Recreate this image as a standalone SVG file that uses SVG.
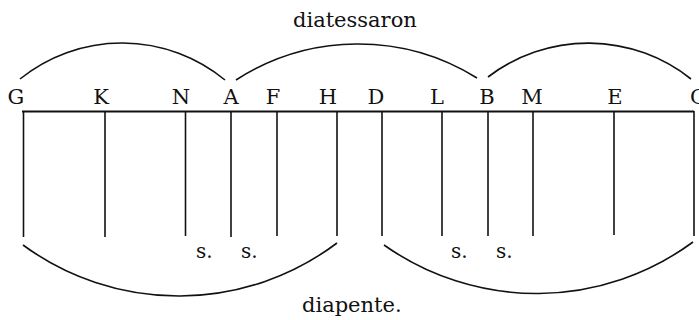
<svg xmlns="http://www.w3.org/2000/svg" width="699" height="320" viewBox="0 0 699 320">
<style>
text{font-family:"DejaVu Serif","Liberation Serif",serif;fill:#111;}
.lab{font-size:21px;text-anchor:middle;}
.s{font-size:20px;}
.t{font-size:21px;}
.v{stroke:#111;stroke-width:1.6;fill:none;}
.arc{stroke:#111;stroke-width:1.6;fill:none;}
</style>
<rect width="699" height="320" fill="#fff"/>
<line x1="22" y1="111.5" x2="694" y2="111.5" stroke="#111" stroke-width="2"/>
<g id="G"><text class="lab" x="16" y="104">G</text><line class="v" x1="23.5" y1="111" x2="23.5" y2="237"/></g>
<g id="K"><text class="lab" x="101" y="104">K</text><line class="v" x1="105" y1="111" x2="105" y2="237"/></g>
<g id="N"><text class="lab" x="181" y="104">N</text><line class="v" x1="185.5" y1="111" x2="185.5" y2="236"/></g>
<g id="A"><text class="lab" x="231" y="104">A</text><line class="v" x1="231" y1="111" x2="231" y2="237"/></g>
<g id="F"><text class="lab" x="273" y="104">F</text><line class="v" x1="277" y1="111" x2="277" y2="236"/></g>
<g id="H"><text class="lab" x="328" y="104">H</text><line class="v" x1="337" y1="111" x2="337" y2="236"/></g>
<g id="D"><text class="lab" x="376" y="104">D</text><line class="v" x1="382" y1="111" x2="382" y2="236"/></g>
<g id="L"><text class="lab" x="437" y="104">L</text><line class="v" x1="442" y1="111" x2="442" y2="236"/></g>
<g id="B"><text class="lab" x="487" y="104">B</text><line class="v" x1="488" y1="111" x2="488" y2="236"/></g>
<g id="M"><text class="lab" x="532" y="104">M</text><line class="v" x1="533" y1="111" x2="533" y2="236"/></g>
<g id="E"><text class="lab" x="615" y="104">E</text><line class="v" x1="614" y1="111" x2="614" y2="235"/></g>
<g id="C"><text class="lab" x="698" y="104">C</text><line class="v" x1="694" y1="111" x2="694" y2="236"/></g>
<g id="connectors">
<path class="arc" d="M20,79 A162,162 0 0 1 225,80"/>
<path class="arc" d="M236,80 A225,225 0 0 1 477,78"/>
<path class="arc" d="M488,77 A165,165 0 0 1 691,79"/>
<path class="arc" d="M23,245 A263,263 0 0 0 337,243"/>
<path class="arc" d="M384,245 A264,264 0 0 0 693,242"/>
</g>
<g id="labels">
<text class="t" x="293" y="27">diatessaron</text>
<text class="t" x="302" y="312">diapente.</text>
<text class="s" x="196" y="258">s.</text>
<text class="s" x="241" y="258">s.</text>
<text class="s" x="451" y="258">s.</text>
<text class="s" x="496" y="258">s.</text>
</g>
</svg>
